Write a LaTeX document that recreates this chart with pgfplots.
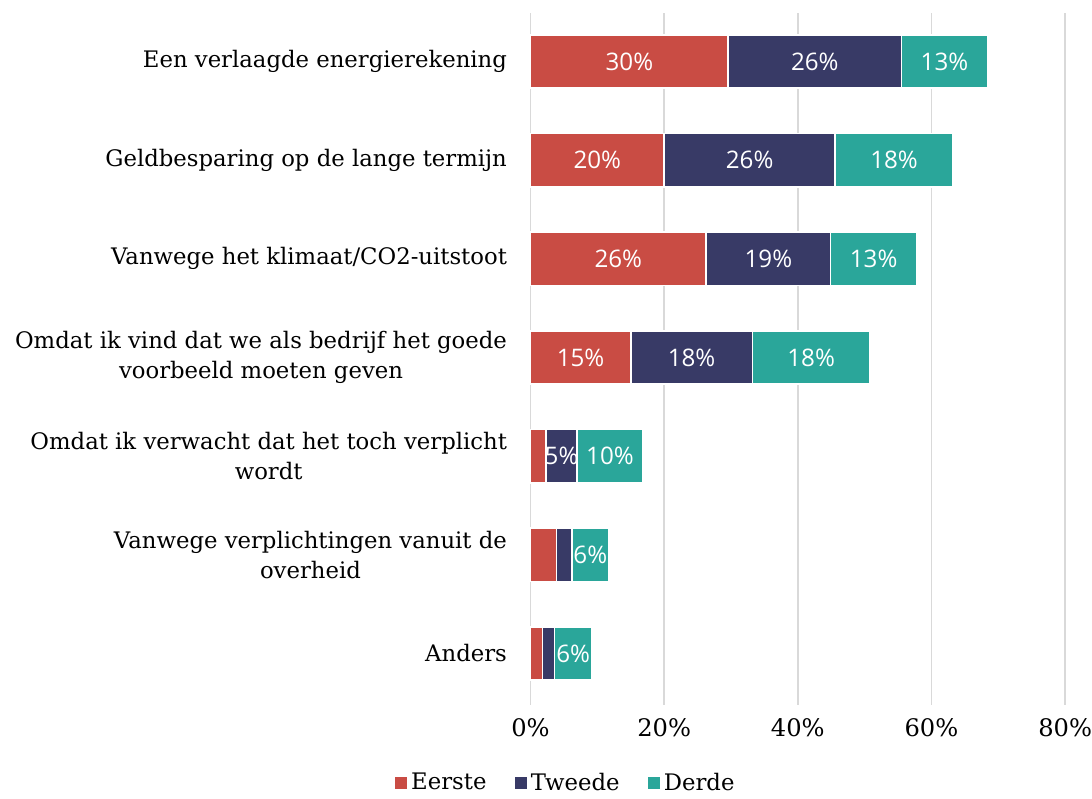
\documentclass[border=0pt]{standalone}
\usepackage{pgfplots}
\usepackage{pgfplotstable}
\pgfplotsset{compat=1.18}
\usepackage{fontspec}
\setmainfont{DejaVu Serif}
\newfontfamily\lblfont{Open Sans}
\definecolor{cRed}{HTML}{C94C44}
\definecolor{cNavy}{HTML}{383A66}
\definecolor{cTeal}{HTML}{2AA69A}
\definecolor{cGrid}{HTML}{D9D9D9}

\pgfplotstableread{
idx a b c
0 29.6 25.9 12.9
1 20.0 25.6 17.6
2 26.3 18.6 12.9
3 15.0 18.2 17.6
4 2.3 4.7 9.8
5 3.9 2.3 5.5
6 1.8 1.8 5.6
}\data

\pgfplotsset{
  seg/.style={
    fill=#1, draw=white, line width=0.8pt,
    nodes near coords={\ifdim\rawx pt<4.5pt\relax\else\pgfmathprintnumber[fixed,precision=0]{\pgfplotspointmeta}\%\fi},
    every node near coord/.append style={anchor=center, text=white, font=\lblfont\fontsize{12}{14}\selectfont},
  }
}

\begin{document}
\begin{tikzpicture}
\begin{axis}[
  xbar stacked,
  scale only axis,
  width=265.5pt, height=343.5pt,
  bar width=26.5pt,
  xmin=0, xmax=80,
  ymin=-0.49, ymax=6.52,
  y dir=reverse,
  axis line style={draw=none},
  xtick={0,20,40,60,80},
  xticklabel={\pgfmathprintnumber{\tick}\%},
  /pgf/number format/assume math mode=true,
  xticklabel style={font=\fontsize{12}{14}\selectfont, yshift=-3.5pt, inner xsep=0pt},
  xmajorgrids, grid style={cGrid, line width=0.8pt},
  major tick length=0pt,
  ytick={0,...,6},
  yticklabels={
    Een verlaagde energierekening,
    Geldbesparing op de lange termijn,
    Vanwege het klimaat/CO2-uitstoot,
    {Omdat ik vind dat we als bedrijf het goede\\voorbeeld moeten geven},
    {Omdat ik verwacht dat het toch verplicht\\wordt},
    {Vanwege verplichtingen vanuit de\\overheid},
    Anders},
  yticklabel style={align=center, font=\fontsize{11.3}{15}\selectfont, inner xsep=0pt, xshift=-11.5pt},
  legend style={at={(0.068,-0.113)}, anchor=center, draw=none, legend columns=-1,
    font=\fontsize{11.3}{13}\selectfont, inner sep=0.5pt,
    /tikz/every odd column/.append style={column sep=0pt},
    /tikz/every even column/.append style={column sep=12pt},
    legend cell align=left},
  legend image code/.code={\fill[#1, draw=none] (0pt,-3pt) rectangle (6pt,3pt);},
  clip=false,
]
\addplot[seg=cRed, visualization depends on={\thisrow{a} \as \rawx}, point meta=explicit] table[x=a, y=idx, meta=a] {\data};
\addplot[seg=cNavy, visualization depends on={\thisrow{b} \as \rawx}, point meta=explicit] table[x=b, y=idx, meta=b] {\data};
\addplot[seg=cTeal, visualization depends on={\thisrow{c} \as \rawx}, point meta=explicit] table[x=c, y=idx, meta=c] {\data};
\legend{Eerste, Tweede, Derde}
\end{axis}
\path ([yshift=6.5pt]current axis.north);
\path (current bounding box.west) ++(-7.5pt,0);
\end{tikzpicture}
\end{document}
